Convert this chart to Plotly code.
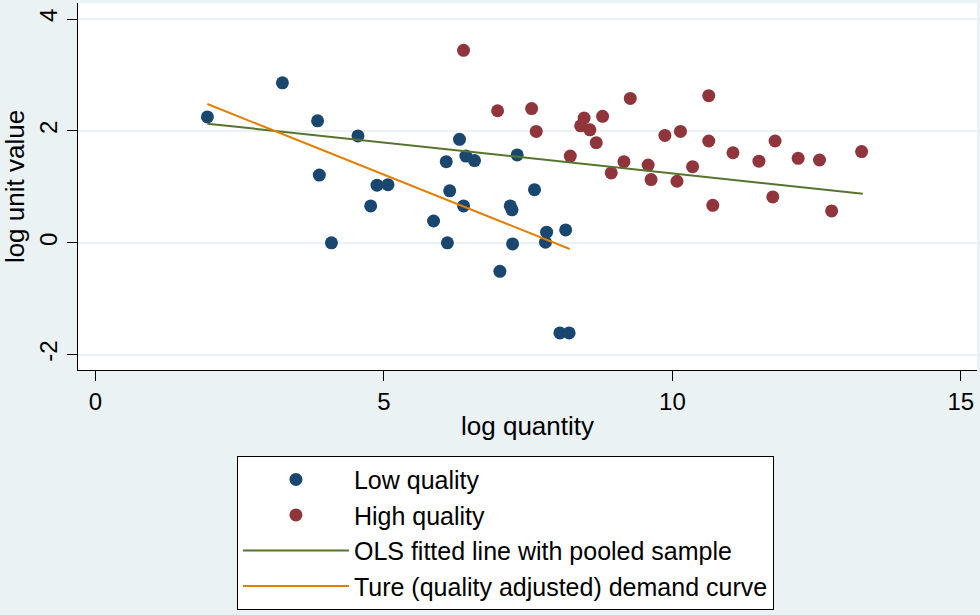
import plotly.graph_objects as go

# ---- data ----
low_x = [1.94, 3.24, 3.85, 3.88, 4.09, 4.55, 4.77, 4.88, 5.07, 5.86, 6.08, 6.10, 6.14,
         6.31, 6.38, 6.42, 6.57, 7.31, 7.61, 7.19, 7.22, 7.23, 7.01, 7.82, 7.80, 8.15,
         8.05, 8.21]
low_y = [2.25, 2.86, 2.18, 1.21, 0.00, 1.91, 0.66, 1.03, 1.04, 0.39, 1.45, 0.00, 0.93,
         1.85, 0.66, 1.55, 1.47, 1.57, 0.95, 0.66, 0.59, -0.02, -0.51, 0.19, 0.01, 0.23,
         -1.61, -1.61]

high_x = [6.38, 6.97, 7.56, 7.64, 8.23, 8.47, 8.41, 8.57, 8.79, 8.68, 9.27, 9.16, 8.94,
          9.58, 9.63, 9.87, 10.14, 10.08, 10.35, 10.63, 10.63, 10.70, 11.05, 11.50,
          11.78, 11.74, 12.18, 12.55, 12.76, 13.28]
high_y = [3.44, 2.36, 2.40, 1.99, 1.55, 2.23, 2.09, 2.02, 2.26, 1.79, 2.58, 1.45, 1.25,
          1.39, 1.13, 1.92, 1.99, 1.10, 1.36, 2.63, 1.82, 0.67, 1.61, 1.46, 1.82, 0.82,
          1.51, 1.48, 0.57, 1.63]

ols_x = [1.94, 13.30]
ols_y = [2.13, 0.875]

true_x = [1.94, 8.22]
true_y = [2.48, -0.11]

x_ticks = [0, 5, 10, 15]
y_ticks = [-2, 0, 2, 4]

# ---- styling ----
NAVY = "#1a476f"
MAROON = "#90353b"
GREEN = "#55752f"
ORANGE = "#e37e00"
BG = "#eaf2f3"
FONT = "Liberation Sans, Arial, sans-serif"

fig = go.Figure()
fig.add_trace(go.Scatter(x=low_x, y=low_y, mode="markers", name="Low quality",
                         legendgroup="a",
                         marker=dict(color=NAVY, size=13, line=dict(width=0))))
fig.add_trace(go.Scatter(x=high_x, y=high_y, mode="markers", name="High quality",
                         legendgroup="b",
                         marker=dict(color=MAROON, size=13, line=dict(width=0))))
fig.add_trace(go.Scatter(x=ols_x, y=ols_y, mode="lines",
                         name="OLS fitted line with pooled sample",
                         legendgroup="c",
                         line=dict(color=GREEN, width=2)))
fig.add_trace(go.Scatter(x=true_x, y=true_y, mode="lines",
                         name="Ture (quality adjusted) demand curve",
                         legendgroup="d",
                         line=dict(color=ORANGE, width=2)))

fig.update_layout(
    width=980, height=615,
    margin=dict(l=78, r=3, t=3, b=245, autoexpand=False),
    paper_bgcolor=BG,
    plot_bgcolor="white",
    font=dict(family=FONT, color="black", size=24),
    showlegend=True,
    legend=dict(
        x=0.1768, xanchor="left",
        y=-0.2335, yanchor="top",
        bgcolor="white",
        bordercolor="black",
        borderwidth=1,
        font=dict(family=FONT, size=25, color="black"),
        itemwidth=106,
        tracegroupgap=0,
        traceorder="normal",
    ),
    xaxis=dict(
        range=[-0.303, 15.28],
        tickvals=x_ticks,
        ticktext=[str(v) for v in x_ticks],
        showgrid=False,
        zeroline=False,
        automargin=False,
        showline=True, linecolor="black", linewidth=1,
        ticks="outside", ticklen=10, tickcolor="black", tickwidth=1,
        tickfont=dict(size=24),
        title=dict(text="log quantity", font=dict(size=26), standoff=3),
    ),
    yaxis=dict(
        range=[-2.273, 4.286],
        tickvals=y_ticks,
        ticktext=[str(v) for v in y_ticks],
        tickangle=-90,
        showgrid=True, gridcolor=BG, gridwidth=2,
        zeroline=False,
        automargin=False,
        showline=True, linecolor="black", linewidth=1,
        ticks="outside", ticklen=10, tickcolor="black", tickwidth=1,
        tickfont=dict(size=24),
        title=dict(text="log unit value", font=dict(size=26), standoff=4),
    ),
)

fig.write_html("out.html")
